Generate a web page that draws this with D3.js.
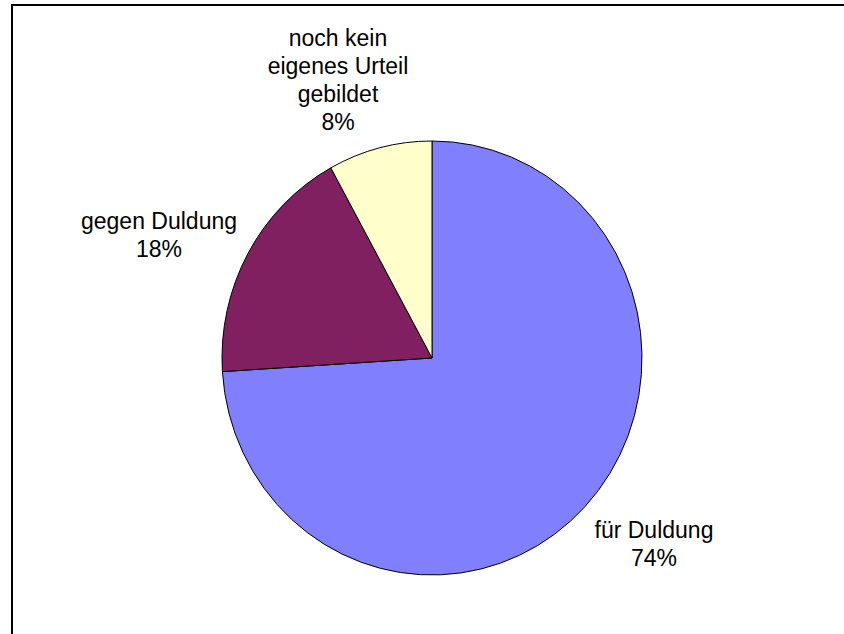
<!DOCTYPE html>
<html><head><meta charset="utf-8">
<script src="https://cdn.jsdelivr.net/npm/d3@7"></script>
<style>html,body{margin:0;padding:0;background:#fff;}svg{display:block;}</style>
</head><body>
<svg id="chart" width="844" height="634"></svg>
<script>
const categories = ["für Duldung", "gegen Duldung", "noch kein eigenes Urteil gebildet"];
const values = [74, 18, 8];
const colors = ["#8080FF", "#802060", "#FFFFCC"];
const labelLines = [["für Duldung", "74%"], ["gegen Duldung", "18%"], ["noch kein", "eigenes Urteil", "gebildet", "8%"]];
const labelPos = [[654, 538], [159, 229], [338, 46]];

const svg = d3.select("#chart");
svg.append("rect").attr("x", 12).attr("y", 5).attr("width", 900).attr("height", 700)
  .attr("fill", "none").attr("stroke", "#000").attr("stroke-width", 2);

const cx = 432, cy = 358, ry = 217, rx = 210;
const pie = d3.pie().sort(null).value(d => d);
const arcs = pie(values);
const arc = d3.arc().innerRadius(0).outerRadius(ry);
const g = svg.append("g").attr("transform", `translate(${cx},${cy}) scale(${rx/ry},1)`);
g.selectAll("path").data(arcs).join("path")
  .attr("d", arc)
  .attr("fill", (d, i) => colors[i])
  .attr("stroke", "#000").attr("stroke-width", 1)
  .attr("vector-effect", "non-scaling-stroke")
  .attr("stroke-linejoin", "round");

const lh = 28;
labelLines.forEach((lines, i) => {
  const t = svg.append("text").attr("text-anchor", "middle")
    .attr("font-family", "Liberation Sans, Arial, sans-serif").attr("font-size", 23).attr("fill", "#000");
  lines.forEach((l, j) => {
    t.append("tspan").attr("x", labelPos[i][0]).attr("y", labelPos[i][1] + j * lh).text(l);
  });
});
</script>
</body></html>
